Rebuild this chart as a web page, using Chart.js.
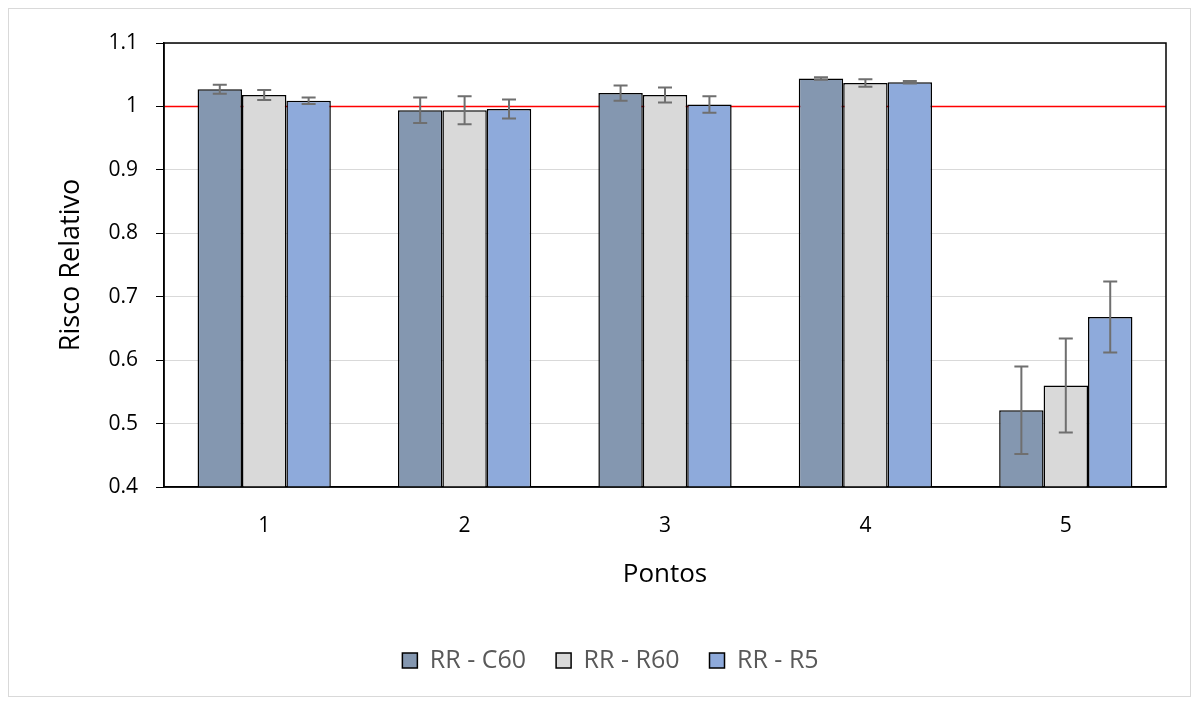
<!DOCTYPE html>
<html>
<head>
<meta charset="utf-8">
<script src="https://cdn.jsdelivr.net/npm/chart.js@4.4.0/dist/chart.umd.min.js"></script>
<style>
  html, body { margin: 0; padding: 0; background: #fff; }
  #wrap { width: 1199px; height: 705px; }
</style>
</head>
<body>
<div id="wrap"><canvas id="rrChart" width="1199" height="705"></canvas></div>
<script>
// dados
const pontos = ["1", "2", "3", "4", "5"];
const rrC60 = [1.027, 0.994, 1.021, 1.044, 0.521];
const rrR60 = [1.018, 0.994, 1.018, 1.037, 0.560];
const rrR5 = [1.009, 0.996, 1.003, 1.038, 0.668];
const errC60 = [0.007, 0.020, 0.012, 0.002, 0.069];
const errR60 = [0.008, 0.022, 0.012, 0.006, 0.074];
const errR5 = [0.005, 0.015, 0.013, 0.002, 0.056];
const linhaRef = 1;

const FONT = "'Open Sans', sans-serif";

// moldura externa + fundo branco
const fundo = {
  id: "fundo",
  beforeDraw(chart) {
    const { ctx } = chart;
    ctx.save();
    ctx.fillStyle = "#fff";
    ctx.fillRect(0, 0, chart.width, chart.height);
    ctx.strokeStyle = "#d9d9d9";
    ctx.lineWidth = 1;
    ctx.strokeRect(8.5, 8.5, 1182, 688);
    ctx.restore();
  },
};

// linha vermelha em RR = 1 (atrás das barras)
const linhaVermelha = {
  id: "linhaVermelha",
  beforeDatasetsDraw(chart) {
    const { ctx, chartArea, scales } = chart;
    const y = scales.y.getPixelForValue(linhaRef);
    ctx.save();
    ctx.strokeStyle = "#ff0000";
    ctx.lineWidth = 1.5;
    ctx.beginPath();
    ctx.moveTo(chartArea.left, y);
    ctx.lineTo(chartArea.right, y);
    ctx.stroke();
    ctx.restore();
  },
};

// barras de erro + caixa da área do gráfico
const barrasErro = {
  id: "barrasErro",
  afterDatasetsDraw(chart) {
    const { ctx, chartArea, scales } = chart;
    ctx.save();
    ctx.strokeStyle = "#6f6f6f";
    ctx.lineWidth = 2;
    chart.data.datasets.forEach((ds, i) => {
      const meta = chart.getDatasetMeta(i);
      meta.data.forEach((bar, j) => {
        const v = ds.data[j];
        const e = ds.erros[j];
        const yTop = scales.y.getPixelForValue(v + e);
        const yBot = scales.y.getPixelForValue(v - e);
        const x = bar.x;
        ctx.beginPath();
        ctx.moveTo(x, yTop);
        ctx.lineTo(x, yBot);
        ctx.moveTo(x - 7, yTop);
        ctx.lineTo(x + 7, yTop);
        ctx.moveTo(x - 7, yBot);
        ctx.lineTo(x + 7, yBot);
        ctx.stroke();
      });
    });
    ctx.strokeStyle = "#000";
    ctx.lineWidth = 1.5;
    ctx.strokeRect(chartArea.left, chartArea.top, chartArea.right - chartArea.left, chartArea.bottom - chartArea.top);
    ctx.restore();
  },
};

const ctx = document.getElementById("rrChart").getContext("2d");
new Chart(ctx, {
  type: "bar",
  data: {
    labels: pontos,
    datasets: [
      { label: "RR - C60", data: rrC60, erros: errC60, backgroundColor: "#8497b0", borderColor: "#000", borderWidth: 1.5 },
      { label: "RR - R60", data: rrR60, erros: errR60, backgroundColor: "#d9d9d9", borderColor: "#000", borderWidth: 1.5 },
      { label: "RR - R5", data: rrR5, erros: errR5, backgroundColor: "#8eaadb", borderColor: "#000", borderWidth: 1.5 },
    ],
  },
  options: {
    responsive: false,
    animation: false,
    devicePixelRatio: 1,
    datasets: {
      bar: { barPercentage: 1, categoryPercentage: 0.665, borderSkipped: false },
    },
    layout: { padding: { left: 55, right: 33, top: 43, bottom: 22 } },
    plugins: {
      tooltip: { enabled: false },
      legend: {
        position: "bottom",
        labels: {
          boxWidth: 15,
          boxHeight: 15,
          padding: 30,
          color: "#595959",
          font: { family: FONT, size: 25 },
        },
      },
    },
    scales: {
      x: {
        grid: { display: false, drawTicks: false },
        border: { color: "#000", width: 1.5 },
        ticks: { color: "#000", padding: 26, font: { family: FONT, size: 21 } },
        title: {
          display: true,
          text: "Pontos",
          color: "#000",
          padding: { top: 0, bottom: 28 },
          font: { family: FONT, size: 26 },
        },
        afterFit(scale) { scale.height = 131; },
      },
      y: {
        min: 0.4,
        max: 1.1,
        grid: { color: "#d9d9d9", lineWidth: 1, tickColor: "#000", tickLength: 8 },
        border: { color: "#000", width: 1.5 },
        ticks: {
          stepSize: 0.1,
          padding: 18,
          color: "#000",
          font: { family: FONT, size: 21 },
          callback: (v) => Math.round(v * 10) / 10,
        },
        title: {
          display: true,
          text: "Risco Relativo",
          color: "#000",
          padding: { top: 0, bottom: 0 },
          font: { family: FONT, size: 27 },
        },
        afterFit(scale) { scale.width = 109; },
      },
    },
  },
  plugins: [fundo, linhaVermelha, barrasErro],
});
</script>
</body>
</html>
